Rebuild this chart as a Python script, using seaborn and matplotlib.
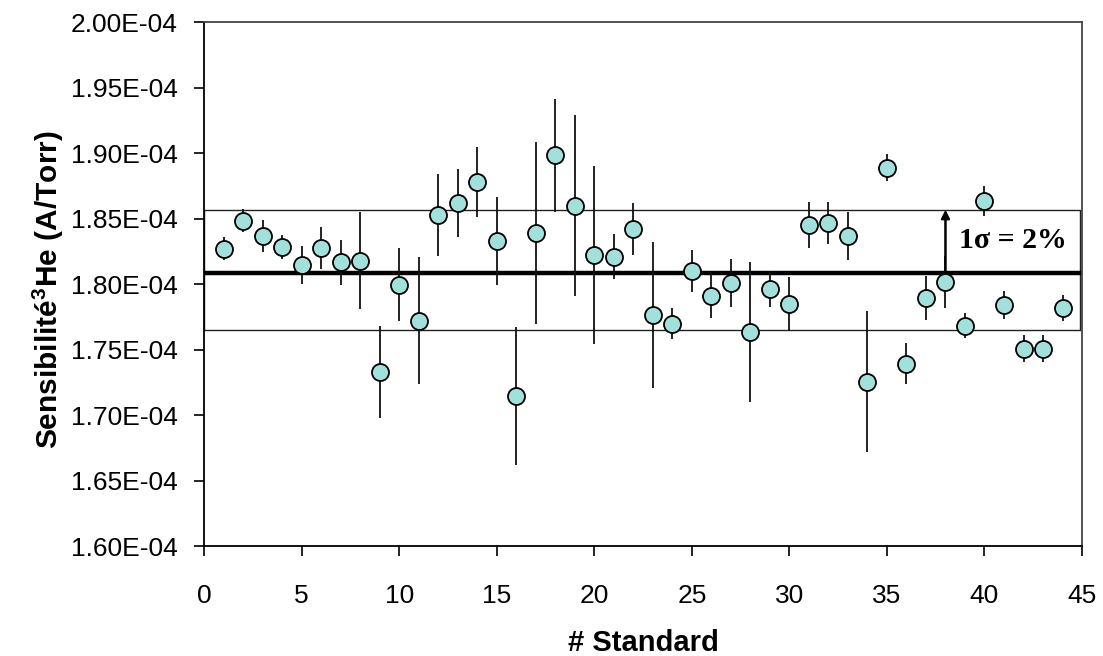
import pandas as pd
import seaborn as sns
import matplotlib.pyplot as plt
from matplotlib.ticker import FuncFormatter

sns.set_style("ticks")
plt.rcParams["font.family"] = ["Liberation Sans", "DejaVu Sans"]
plt.rcParams["text.color"] = "black"
plt.rcParams["axes.labelcolor"] = "black"
plt.rcParams["mathtext.fontset"] = "custom"
plt.rcParams["mathtext.bf"] = "Liberation Sans:bold"
plt.rcParams["mathtext.rm"] = "Liberation Sans"

# values in units of 1e-4 A/Torr
standard = list(range(1, 45))
sensibilite = [1.8273, 1.8487, 1.8367, 1.8286, 1.8146, 1.8278, 1.8169, 1.8182, 1.7332, 1.7999,
               1.7724, 1.8530, 1.8624, 1.8781, 1.8329, 1.7149, 1.8390, 1.8985, 1.8601, 1.8222,
               1.8212, 1.8423, 1.7764, 1.7701, 1.8103, 1.7915, 1.8011, 1.7637, 1.7965, 1.7850,
               1.8451, 1.8466, 1.8369, 1.7258, 1.8891, 1.7396, 1.7896, 1.8019, 1.7683, 1.8634,
               1.7840, 1.7510, 1.7510, 1.7820]
erreur = [0.0087, 0.0090, 0.0123, 0.0094, 0.0145, 0.0160, 0.0173, 0.0367, 0.0350, 0.0277,
          0.0485, 0.0310, 0.0260, 0.0267, 0.0336, 0.0527, 0.0693, 0.0432, 0.0693, 0.0680,
          0.0170, 0.0200, 0.0557, 0.0118, 0.0160, 0.0174, 0.0180, 0.0536, 0.0140, 0.0204,
          0.0177, 0.0160, 0.0184, 0.0540, 0.0104, 0.0158, 0.0168, 0.0200, 0.0095, 0.0115,
          0.0108, 0.0102, 0.0102, 0.0102]
moyenne = 1.809
bande = [1.7655, 1.857]
x_fleche = 38

df = pd.DataFrame({"standard": standard,
                   "sens": [v * 1e-4 for v in sensibilite],
                   "err": [e * 1e-4 for e in erreur]})

fig = plt.figure(figsize=(11.03, 6.56), dpi=100)
ax = fig.add_axes([0.185, 0.167, 0.796, 0.799])

# band +/- 1 sigma and mean
ax.plot([0, 44.9, 44.9, 0, 0],
        [bande[0] * 1e-4, bande[0] * 1e-4, bande[1] * 1e-4, bande[1] * 1e-4, bande[0] * 1e-4],
        color="#222222", lw=1.0, zorder=1)
ax.axhline(moyenne * 1e-4, color="black", lw=3.2, zorder=2)

ax.errorbar(df["standard"], df["sens"], yerr=df["err"], fmt="none",
            ecolor="#111111", elinewidth=1.3, capsize=0, zorder=3)
sns.scatterplot(data=df, x="standard", y="sens", ax=ax, s=150, color="#A3E0DC",
                edgecolor="black", linewidth=1.3, zorder=4)

ax.annotate("", xy=(x_fleche, bande[1] * 1e-4), xytext=(x_fleche, moyenne * 1e-4),
            arrowprops=dict(arrowstyle="-|>", color="black", lw=1.8, mutation_scale=12,
                            shrinkA=0, shrinkB=0), zorder=5)
ax.text(41.45, 1.8335e-4, "1σ = 2%", family=["Liberation Serif", "DejaVu Serif"],
        fontsize=21.5, fontweight="bold", color="black", ha="center", va="center", zorder=5)

ax.set_xlim(0, 45)
ax.set_ylim(1.60e-4, 2.00e-4)
ax.set_xticks(range(0, 46, 5))
ax.set_yticks([1.60e-4 + i * 0.05e-4 for i in range(9)])
ax.yaxis.set_major_formatter(FuncFormatter(lambda v, p: f"{v:.2E}"))
ax.tick_params(axis="both", labelsize=19, length=7, width=1.2, color="black",
               labelcolor="black", direction="out")
ax.tick_params(axis="x", pad=20)
ax.tick_params(axis="y", pad=12)
ax.set_xlabel("# Standard", fontsize=21, fontweight="bold", labelpad=15)
ax.set_ylabel("Sensibilité$^{\\mathbf{3}}$He (A/Torr)", fontsize=21.5, fontweight="bold", labelpad=17)
ax.yaxis.set_label_coords(-0.157, 0.49)

for side in ["left", "bottom"]:
    ax.spines[side].set_color("black")
    ax.spines[side].set_linewidth(1.3)
for side in ["top", "right"]:
    ax.spines[side].set_color("#444444")
    ax.spines[side].set_linewidth(1.3)

fig.savefig("out.png", dpi=100, facecolor="white")
